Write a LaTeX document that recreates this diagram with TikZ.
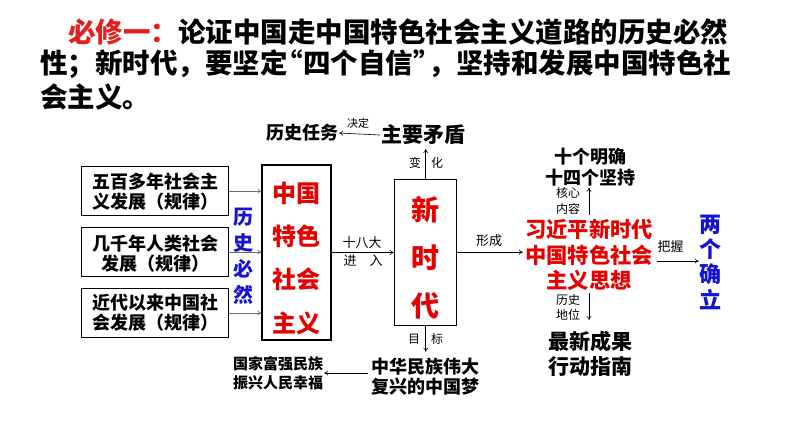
\documentclass[tikz,border=0pt]{standalone}
\usepackage{fontspec}
\setmainfont{Noto Sans CJK SC}
\usetikzlibrary{arrows.meta}
\definecolor{myred}{RGB}{230,0,0}
\definecolor{tred}{RGB}{228,30,30}
\definecolor{myblue}{RGB}{20,20,210}
\definecolor{agray}{RGB}{110,110,110}
\newcommand{\myfs}[2]{\fontsize{#1}{#2}\selectfont}
\begin{document}
\begin{tikzpicture}[x=1pt,y=-1pt,
  frame/.style={draw, line width=1.1pt, inner sep=0pt},
  arr/.style={-{To[length=4pt,width=5pt]}, line width=0.6pt},
  garr/.style={arr, draw=agray},
  lbl/.style={inner sep=0pt, font=\myfs{12}{14}},
  title/.style={inner sep=0pt, anchor=west, font=\bfseries\myfs{27.5}{32}},
  txt/.style={inner sep=1pt, align=center, font=\bfseries\myfs{18}{20}}
]
\useasboundingbox (0,0) rectangle (794,447);

% title
\node[title] (t1) at (68,32) {{\color{tred}必修一：}论证中国走中国特色社会主义道路的历史必然};
\node[title] (t2) at (40,64) {性；新时代，要坚定\makebox[15.5pt][r]{“}四个自信\makebox[15.5pt][l]{”}，坚持和发展中国特色社};
\node[title] (t3) at (40,97) {会主义。};

% left boxes
\node[frame, minimum width=147pt, minimum height=49pt] (b1) at (155,191.3) {};
\node[frame, minimum width=147pt, minimum height=49pt] (b2) at (155,252) {};
\node[frame, minimum width=147pt, minimum height=49pt] (b3) at (155,313) {};
\node[txt] (b1t) at (b1) {五百多年社会主\\义发展（规律）};
\node[txt] (b2t) at (155,254) {几千年人类社会\\发展（规律）};
\node[txt] (b3t) at (b3) {近代以来中国社\\会发展（规律）};

% big box
\node[frame, minimum width=69pt, minimum height=175pt] (big) at (296.5,252.5) {};
\node[inner sep=0pt, align=center, text=myred, font=\bfseries\myfs{24}{43.3}] (bigt) at (296.5,258) {中国\\特色\\社会\\主义};

\draw[garr] (b1.east) -- (b1.east -| big.west);
\draw[garr] (b2.east) -- (b2.east -| big.west);
\draw[garr] (b3.east) -- (b3.east -| big.west);

\node[inner sep=0pt, align=center, text=myblue, font=\bfseries\myfs{20}{26}] (lsbr) at (243,256) {历\\史\\必\\然};

% top
\node[inner sep=1pt, font=\bfseries\myfs{18}{20}] (lsrw) at (302,133) {历史任务};
\node[inner sep=1pt, font=\bfseries\myfs{21}{24}] (zymd) at (423,135) {主要矛盾};
\draw[arr] (zymd.west) -- (lsrw.east);
\node[lbl, font=\myfs{11}{12}] (jd) at (358,123) {决定};

% new era box
\node[frame, minimum width=61.7pt, minimum height=145.7pt] (xsd) at (425.2,252.2) {};
\node[inner sep=0pt, align=center, text=myred, font=\bfseries\myfs{28}{48}] (xsdt) at (425.2,258) {新\\时\\代};

\coordinate (upt) at (425.7,149);
\draw[arr] (xsd.north -| upt) -- (upt);
\node[lbl] (bian) at (415,163) {变};
\node[lbl] (hua) at (437,163) {化};

\draw[arr] (big.east) -- (big.east -| xsd.west);
\node[lbl, font=\myfs{13}{14}] (sbd) at (362,243) {十八大};
\node[lbl, font=\myfs{13}{14}] (jin) at (350,261) {进};
\node[lbl, font=\myfs{13}{14}] (ru) at (376,261) {入};

% bottom
\node[inner sep=1pt, align=center, font=\bfseries\myfs{18}{20}] (zgm) at (425,377) {中华民族伟大\\复兴的中国梦};
\coordinate (dnt) at (425.7,351.7);
\draw[arr] (xsd.south -| dnt) -- (dnt);
\node[lbl] (mu) at (414,339) {目};
\node[lbl] (biao) at (437,339) {标};

\node[inner sep=1pt, align=center, font=\bfseries\myfs{15}{19}] (gjfq) at (278,373.5) {国家富强民族\\振兴人民幸福};
\draw[arr] (zgm.west |- 0,373) ++(-2,0) coordinate (zs) -- (gjfq.east |- zs);

% right
\node[inner sep=2pt, align=center, text=myred, font=\bfseries\myfs{21.3}{25.5}] (xj) at (589,255) {习近平新时代\\中国特色社会\\主义思想};
\draw[arr] (xsd.east) -- (xsd.east -| xj.west);
\node[lbl, font=\myfs{13}{14}] (xc) at (489,241) {形成};

\node[inner sep=1pt, align=center, font=\bfseries\myfs{18}{21.7}] (mq) at (590,167) {十个明确\\十四个坚持};
\draw[arr] (589,215) coordinate (ua) -- (ua |- mq.south);
\node[lbl] (hx) at (568,192.7) {核心};
\node[lbl] (nr) at (568,209) {内容};

\node[inner sep=1pt, align=center, font=\bfseries\myfs{21}{25}] (zx) at (590,354) {最新成果\\行动指南};
\draw[arr] (589,293) coordinate (da) -- (589,320);
\node[lbl] (ls) at (568,300) {历史};
\node[lbl] (dw) at (568,315) {地位};

\node[inner sep=0pt, align=center, text=myblue, font=\bfseries\myfs{22}{25.3}] (lgql) at (710,262) {两\\个\\确\\立};
\coordinate (bwa) at (656.7,261);
\draw[arr] (bwa) -- (bwa -| lgql.west);
\node[lbl, font=\myfs{13}{14}] (bw) at (670.7,247) {把握};
\end{tikzpicture}
\end{document}
